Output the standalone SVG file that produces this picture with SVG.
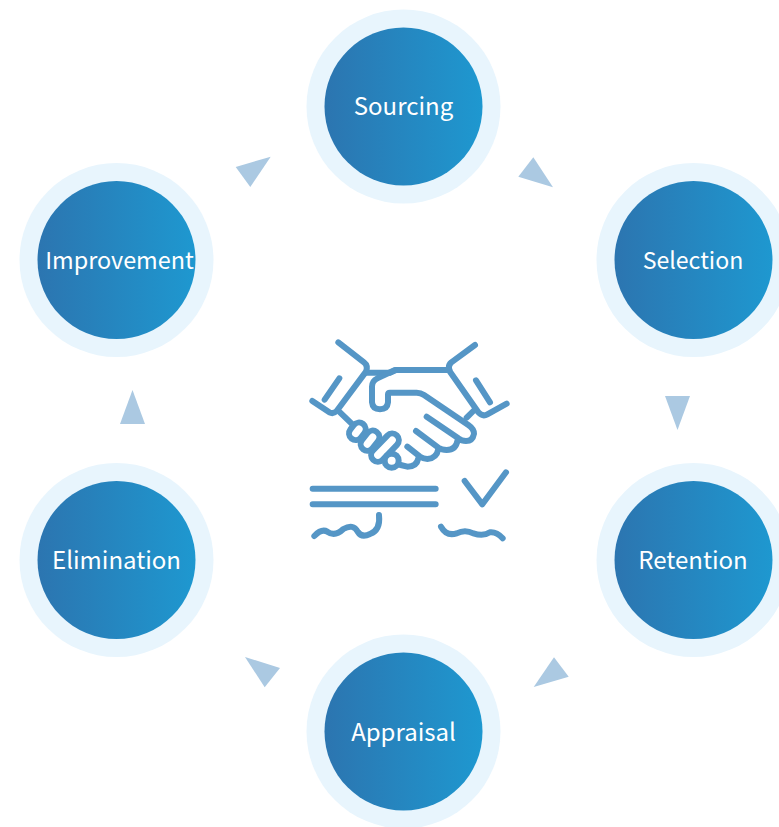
<svg xmlns="http://www.w3.org/2000/svg" width="779" height="827" viewBox="0 0 779 827">
<style>
.halo{fill:#e8f5fd}
.core{fill:url(#g)}
.lbl{font-family:"Noto Sans CJK SC","Noto Sans",sans-serif;font-size:24px;fill:#fff;text-anchor:middle}
.tri{fill:#abc9e2}
.ic{fill:none;stroke:#5596c6;stroke-width:18;stroke-linecap:round;stroke-linejoin:round}
</style>
<defs>
<linearGradient id="g" x1="0" y1="0" x2="1" y2="0"><stop offset="0" stop-color="#2c75b0"/><stop offset="1" stop-color="#1e98d0"/></linearGradient>
</defs>
<rect width="779" height="827" fill="#fff"/>
<g id="connectors">
<polygon class="tri" points="533.3,157.3 518.3,176.7 553,187.3"/>
<polygon class="tri" points="665,396 690,396 677.5,430"/>
<polygon class="tri" points="554,657.3 568.7,676.7 533.7,687"/>
<polygon class="tri" points="245,657 280,668 264.7,687.3"/>
<polygon class="tri" points="132.500,390 120,424 145,424"/>
<polygon class="tri" points="235.7,167 270.7,156.7 250.3,187"/>
</g>
<g id="sourcing"><circle class="halo" cx="403.500" cy="106.500" r="97"/><circle class="core" cx="403.500" cy="106.500" r="79"/><text class="lbl" x="403.500" y="115">Sourcing</text></g>
<g id="selection"><circle class="halo" cx="693.500" cy="260" r="97"/><circle class="core" cx="693.500" cy="260" r="79"/><text class="lbl" x="693" y="269" style="font-size:23.1px">Selection</text></g>
<g id="retention"><circle class="halo" cx="693.500" cy="560" r="97"/><circle class="core" cx="693.500" cy="560" r="79"/><text class="lbl" x="693" y="569">Retention</text></g>
<g id="appraisal"><circle class="halo" cx="403.500" cy="731.500" r="97"/><circle class="core" cx="403.500" cy="731.500" r="79"/><text class="lbl" x="403.500" y="741">Appraisal</text></g>
<g id="elimination"><circle class="halo" cx="116.500" cy="560" r="97"/><circle class="core" cx="116.500" cy="560" r="79"/><text class="lbl" x="116.500" y="569">Elimination</text></g>
<g id="improvement"><circle class="halo" cx="116.500" cy="260" r="97"/><circle class="core" cx="116.500" cy="260" r="79"/><text class="lbl" x="119.500" y="269" style="font-size:23.4px">Improvement</text></g>
<g id="handshake-icon" transform="translate(290 325) scale(.33333)" class="ic">
<path d="M145,52 L222,112 Q235,122 228,140 L140,258 Q130,268 118,262 L67,228"/>
<path d="M148,160 L104,224"/>
<path d="M555,60 L484,112 Q472,122 480,140 L565,262 Q578,276 592,268 L650,236"/>
<path d="M558,166 L600,232"/>
<path d="M228,143 L300,143 L318,135 L478,135"/>
<path d="M315,135 L262,160 Q246,168 246,185 L246,232 Q248,253 270,253 Q292,253 294,232 L294,208 Q294,203 300,203 L380,203 Q392,203 402,210 L535,300 Q552,312 552,326 Q548,348 528,348 Q515,348 505,340 L410,275"/>
<path d="M503,345 Q498,375 470,375 Q455,375 445,368 L378,318"/>
<path d="M445,372 Q440,400 412,402 Q400,402 390,395 L352,365"/>
<path d="M385,400 Q380,425 352,425 L332,420"/>
<path d="M150,262 L185,296"/>
<path d="M550,258 L530,278"/>
<rect x="174" y="299" width="56" height="40" rx="20" transform="rotate(-52 202 319)"/>
<rect x="207" y="327" width="66" height="40" rx="20" transform="rotate(-52 240 347)"/>
<rect x="234" y="348" width="102" height="40" rx="20" transform="rotate(-46 285 368)"/>
<circle cx="305" cy="407" r="21"/>
<path d="M68,491 H437 M68,538 H437"/>
<path d="M524,468 L577,538 L648,442"/>
<path d="M73,633 Q95,610 112,620 Q135,636 160,612 Q190,595 203,620 Q215,640 240,627 Q272,615 267,570"/>
<path d="M453,605 Q470,635 500,625 Q525,612 550,625 Q580,635 600,622 Q620,620 638,640"/>
</g>
</svg>
